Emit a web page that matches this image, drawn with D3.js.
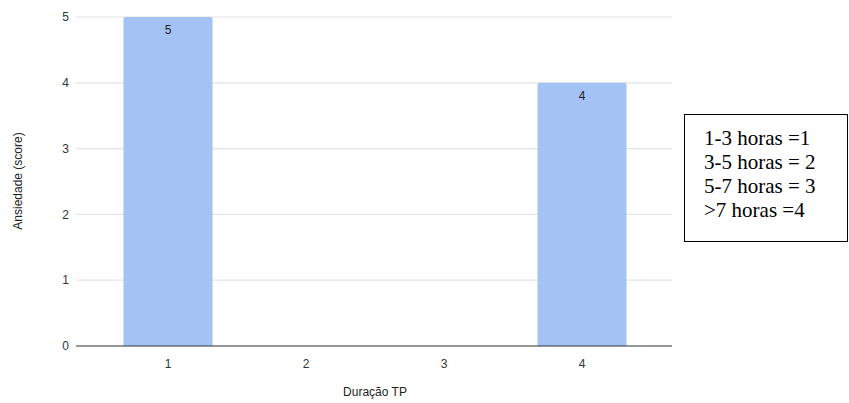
<!DOCTYPE html>
<html>
<head>
<meta charset="utf-8">
<script src="https://cdn.jsdelivr.net/npm/d3@7"></script>
<style>
  html, body { margin: 0; padding: 0; background: #fff; }
  svg { display: block; }
</style>
</head>
<body>
<svg id="chart" width="849" height="403"></svg>
<script>
// Duração TP (category code) vs. anxiety score
const categories = ["1", "2", "3", "4"];
const scores = [5, 0, 0, 4];
const yTicks = [0, 1, 2, 3, 4, 5];
const legendLines = ["1-3 horas =1", "3-5 horas = 2", "5-7 horas = 3", ">7 horas =4"];

const svg = d3.select("#chart");
const font = "Arial, 'Liberation Sans', sans-serif";

const gridLeft = 76, gridRight = 672;
const y = d3.scaleLinear().domain([0, 5]).range([346, 17]);
const x = d3.scaleBand().domain(categories).range([99, 651]).paddingInner(0.355).paddingOuter(0.1775);

// horizontal gridlines
svg.append("g").selectAll("line")
  .data(yTicks.filter(d => d !== 0))
  .join("line")
  .attr("x1", gridLeft).attr("x2", gridRight)
  .attr("y1", d => y(d)).attr("y2", d => y(d))
  .attr("stroke", "#e3e3e3").attr("stroke-width", 1.2);

// y tick labels
svg.append("g").selectAll("text")
  .data(yTicks)
  .join("text")
  .attr("x", 69).attr("y", d => y(d))
  .attr("dy", "0.35em")
  .attr("text-anchor", "end")
  .attr("font-family", font).attr("font-size", 12)
  .attr("fill", "#333")
  .text(d => d);

// bars
const data = categories.map((c, i) => ({ c, v: scores[i] }));
svg.append("g").selectAll("path")
  .data(data.filter(d => d.v > 0))
  .join("path")
  .attr("fill", "#a4c2f4")
  .attr("d", d => {
    const x0 = x(d.c), w = x.bandwidth(), y0 = y(d.v), y1 = y(0), r = 2;
    return `M${x0},${y1}V${y0 + r}Q${x0},${y0} ${x0 + r},${y0}H${x0 + w - r}Q${x0 + w},${y0} ${x0 + w},${y0 + r}V${y1}Z`;
  });

// value labels inside bar tops
svg.append("g").selectAll("text")
  .data(data.filter(d => d.v > 0))
  .join("text")
  .attr("x", d => x(d.c) + x.bandwidth() / 2)
  .attr("y", d => y(d.v) + 13)
  .attr("dy", "0.35em")
  .attr("text-anchor", "middle")
  .attr("font-family", font).attr("font-size", 12)
  .attr("fill", "#222")
  .text(d => d.v);

// baseline
svg.append("line")
  .attr("x1", gridLeft).attr("x2", gridRight)
  .attr("y1", y(0)).attr("y2", y(0))
  .attr("stroke", "#333").attr("stroke-width", 1.2);

// x tick labels
svg.append("g").selectAll("text")
  .data(categories)
  .join("text")
  .attr("x", d => x(d) + x.bandwidth() / 2)
  .attr("y", 364)
  .attr("dy", "0.35em")
  .attr("text-anchor", "middle")
  .attr("font-family", font).attr("font-size", 12)
  .attr("fill", "#333")
  .text(d => d);

// axis titles
svg.append("text")
  .attr("x", (99 + 651) / 2).attr("y", 392)
  .attr("dy", "0.35em")
  .attr("text-anchor", "middle")
  .attr("font-family", font).attr("font-size", 12)
  .attr("fill", "#222")
  .text("Duração TP");

svg.append("text")
  .attr("transform", `translate(18,${181}) rotate(-90)`)
  .attr("dy", "0.35em")
  .attr("text-anchor", "middle")
  .attr("font-family", font).attr("font-size", 12)
  .attr("fill", "#222")
  .text("Ansiedade (score)");

// code key box
const key = svg.append("g");
key.append("rect")
  .attr("x", 684.5).attr("y", 114.5)
  .attr("width", 163).attr("height", 127)
  .attr("fill", "#fff").attr("stroke", "#000").attr("stroke-width", 1);
key.selectAll("text")
  .data(legendLines)
  .join("text")
  .attr("x", 704)
  .attr("y", (d, i) => 145 + i * 24)
  .attr("font-family", "'Liberation Serif', 'Times New Roman', serif")
  .attr("font-size", 21)
  .attr("fill", "#000")
  .text(d => d);
</script>
</body>
</html>
